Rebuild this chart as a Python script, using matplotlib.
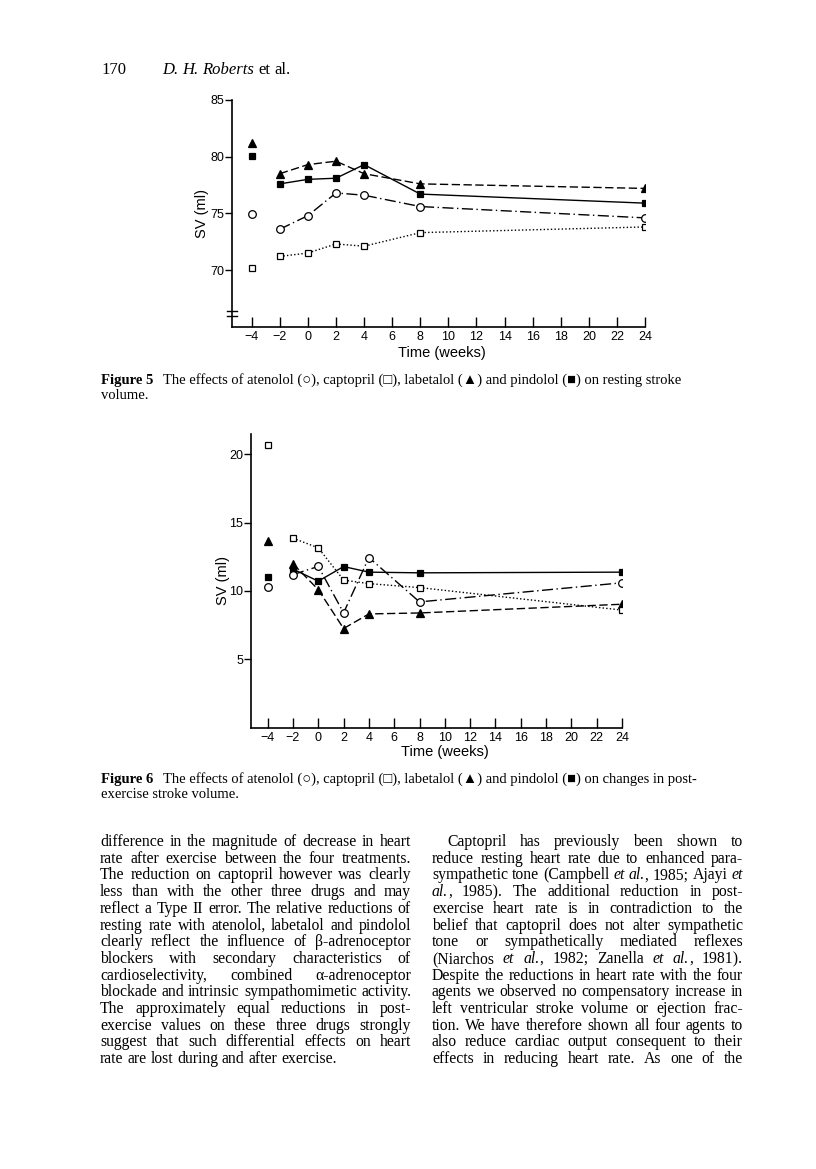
import matplotlib
matplotlib.use("Agg")
import matplotlib.pyplot as plt

# ---- data ----
weeks = [-4, -2, 0, 2, 4, 8, 24]

# Figure 5: resting stroke volume (ml)
rest_atenolol = [74.9, 73.6, 74.8, 76.8, 76.6, 75.6, 74.6]
rest_captopril = [70.2, 71.2, 71.5, 72.3, 72.1, 73.3, 73.8]
rest_labetalol = [81.2, 78.5, 79.3, 79.6, 78.5, 77.6, 77.2]
rest_pindolol = [80.1, 77.6, 78.0, 78.1, 79.3, 76.7, 75.9]

# Figure 6: post-exercise stroke volume (ml)
ex_atenolol = [10.3, 11.2, 11.8, 8.4, 12.45, 9.2, 10.6]
ex_captopril = [20.66, 13.87, 13.16, 10.8, 10.54, 10.25, 8.6]
ex_labetalol = [13.67, 11.99, 10.1, 7.25, 8.32, 8.39, 9.03]
ex_pindolol = [11.06, 11.6, 10.72, 11.79, 11.38, 11.33, 11.38]

xticks = list(range(-4, 25, 2))
yticks5 = [70, 75, 80, 85]
yticks6 = [5, 10, 15, 20]

caption5 = ["Figure 5",
            "The effects of atenolol (\u25cb), captopril (\u25a1), labetalol (\u25b2) and pindolol (\u25a0) on resting stroke",
            "volume."]
caption6 = ["Figure 6",
            "The effects of atenolol (\u25cb), captopril (\u25a1), labetalol (\u25b2) and pindolol (\u25a0) on changes in post-",
            "exercise stroke volume."]

left_col = [
    "difference in the magnitude of decrease in heart",
    "rate after exercise between the four treatments.",
    "The reduction on captopril however was clearly",
    "less than with the other three drugs and may",
    "reflect a Type II error. The relative reductions of",
    "resting rate with atenolol, labetalol and pindolol",
    "clearly reflect the influence of \u03b2-adrenoceptor",
    "blockers with secondary characteristics of",
    "cardioselectivity, combined \u03b1-adrenoceptor",
    "blockade and intrinsic sympathomimetic activity.",
    "The approximately equal reductions in post-",
    "exercise values on these three drugs strongly",
    "suggest that such differential effects on heart",
    "rate are lost during and after exercise.",
]
right_col = [
    "Captopril has previously been shown to",
    "reduce resting heart rate due to enhanced para-",
    "sympathetic tone (Campbell *et* *al.*, 1985; Ajayi *et*",
    "*al.*, 1985). The additional reduction in post-",
    "exercise heart rate is in contradiction to the",
    "belief that captopril does not alter sympathetic",
    "tone or sympathetically mediated reflexes",
    "(Niarchos *et* *al.*, 1982; Zanella *et* *al.*, 1981).",
    "Despite the reductions in heart rate with the four",
    "agents we observed no compensatory increase in",
    "left ventricular stroke volume or ejection frac-",
    "tion. We have therefore shown all four agents to",
    "also reduce cardiac output consequent to their",
    "effects in reducing heart rate. As one of the",
]

W, H = 816, 1169
SANS = ["Liberation Sans", "DejaVu Sans"]
SERIF = ["Liberation Serif", "DejaVu Serif", "DejaVu Sans"]

fig = plt.figure(figsize=(W / 100, H / 100), dpi=100)
renderer = fig.canvas.get_renderer()


def fx(px):
    return px / W


def fy(py):
    return 1 - py / H


def series(ax, y, marker, dashes, filled, ms):
    face = "black" if filled else "white"
    line, = ax.plot(weeks[1:], y[1:], color="black", lw=1.0, marker=marker,
                    ms=ms, mfc=face, mec="black", mew=0.9, zorder=3)
    if dashes:
        line.set_dashes(dashes)
    ax.plot(weeks[:1], y[:1], ls="none", marker=marker, ms=ms, mfc=face,
            mec="black", mew=0.9, zorder=3)


def style_axes(ax, yticks, xlab_xy, ylab_xy):
    for s in ["top", "right"]:
        ax.spines[s].set_visible(False)
    for s in ["left", "bottom"]:
        ax.spines[s].set_linewidth(1.2)
    ax.set_xticks(xticks)
    ax.set_yticks(yticks)
    ax.tick_params(axis="x", direction="in", length=7, width=1.0, pad=3,
                   labelsize=9)
    ax.tick_params(axis="y", direction="out", length=5, width=1.0, pad=0.5,
                   labelsize=9)
    for lab in ax.get_xticklabels() + ax.get_yticklabels():
        lab.set_family(SANS)
    ax.set_xlabel("Time (weeks)", family=SANS, fontsize=10.5, va="center")
    ax.set_ylabel("SV (ml)", family=SANS, fontsize=10.5, va="center")
    ax.xaxis.set_label_coords(*xlab_xy)
    ax.yaxis.set_label_coords(*ylab_xy)


# ---- Figure 5 ----
ax1 = fig.add_axes([fx(232.3), fy(326.7), 412.8 / W, 226.7 / H])
ax1.set_xlim(-5.38, 24)
ax1.set_ylim(65, 85)
series(ax1, rest_labetalol, "^", (6, 2.5), True, 5.5)
series(ax1, rest_pindolol, "s", None, True, 5)
series(ax1, rest_atenolol, "o", (8, 2.5, 1, 2.5), False, 5.5)
series(ax1, rest_captopril, "s", (1, 1.6), False, 4.5)
style_axes(ax1, yticks5, (0.507, -0.115), (-0.074, 0.5))
# axis break marks
for yb in [66.4, 65.9]:
    ax1.plot([-5.78, -5.02], [yb, yb], color="black", lw=1.0, clip_on=False)

# ---- Figure 6 ----
ax2 = fig.add_axes([fx(250.7), fy(727.5), 371.3 / W, 293.5 / H])
ax2.set_xlim(-5.34, 24)
ax2.set_ylim(0, 21.5)
series(ax2, ex_pindolol, "s", None, True, 5)
series(ax2, ex_labetalol, "^", (6, 2.5), True, 5.5)
series(ax2, ex_captopril, "s", (1, 1.6), False, 4.5)
series(ax2, ex_atenolol, "o", (8, 2.5, 1, 2.5), False, 5.5)
style_axes(ax2, yticks6, (0.523, -0.0835), (-0.0754, 0.5))


# ---- page text ----
def width_of(t):
    return t.get_window_extent(renderer=renderer).width


def put_line(line, x0, x1, ybase, justify=True, size=11.3):
    words = []
    for w in line.split(" "):
        segs = []
        for i, p in enumerate(w.split("*")):
            if p:
                t = fig.text(0, fy(ybase), p, family=SERIF, size=size,
                             style="italic" if i % 2 else "normal",
                             va="baseline", ha="left")
                segs.append(t)
        words.append(segs)
    widths = [sum(width_of(t) for t in segs) for segs in words]
    space = 0.25 * size * 100 / 72
    if justify and len(words) > 1:
        space = (x1 - x0 - sum(widths)) / (len(words) - 1)
    x = x0
    for segs, wd in zip(words, widths):
        xx = x
        for t in segs:
            t.set_x(fx(xx))
            xx += width_of(t)
        x += wd + space


# header
fig.text(fx(101), fy(74), "170", family=SERIF, size=12, va="baseline")
put_line("*D.* *H.* *Roberts* et al.", 162, 0, 74, justify=False, size=12)


def caption(lines, y1):
    fig.text(fx(101), fy(y1), lines[0], family=SERIF, size=10.5,
             weight="bold", va="baseline")
    fig.text(fx(163), fy(y1), lines[1], family=SERIF, size=10.5,
             va="baseline")
    fig.text(fx(101), fy(y1 + 15), lines[2], family=SERIF, size=10.5,
             va="baseline")


caption(caption5, 384)
caption(caption6, 783)

base = 846
lead = 16.7
for i, line in enumerate(left_col):
    put_line(line, 100, 411, base + i * lead, justify=i < len(left_col) - 1)
for i, line in enumerate(right_col):
    x0 = 447 if i == 0 else 432
    put_line(line, x0, 743, base + i * lead)

fig.savefig("out.png", dpi=100, facecolor="white")
